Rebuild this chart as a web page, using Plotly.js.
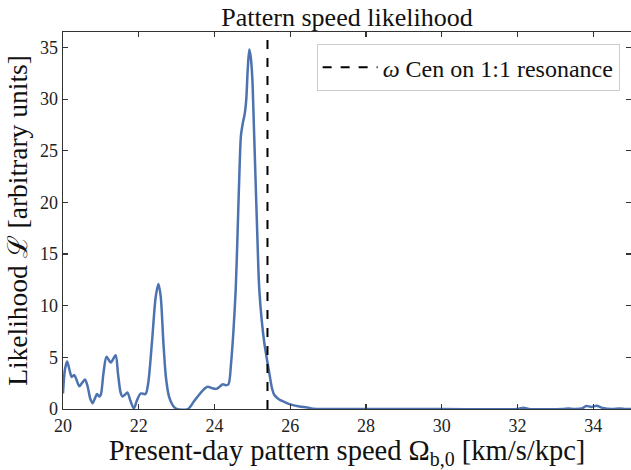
<!DOCTYPE html>
<html>
<head>
<meta charset="utf-8">
<script src="https://cdn.plot.ly/plotly-3.0.1.min.js"></script>
<style>html,body{margin:0;padding:0;background:#fff;}#chart{width:631px;height:470px;}</style>
</head>
<body>
<div id="chart"></div>
<script>
const omega = [20.00,20.05,20.11,20.17,20.23,20.29,20.34,20.43,20.50,20.58,20.65,20.72,20.78,20.85,20.90,20.96,21.00,21.07,21.15,21.26,21.39,21.45,21.52,21.57,21.64,21.70,21.78,21.87,21.95,22.05,22.18,22.25,22.35,22.45,22.52,22.58,22.65,22.72,22.80,22.90,23.00,23.30,23.45,23.60,23.75,23.82,23.95,24.05,24.15,24.22,24.30,24.37,24.44,24.50,24.56,24.61,24.66,24.70,24.75,24.80,24.84,24.88,24.92,24.96,25.00,25.04,25.08,25.13,25.18,25.25,25.32,25.40,25.45,25.52,25.58,25.70,25.84,26.00,26.24,26.45,26.60,27.00,28.00,30.00,32.00,32.16,32.30,33.20,33.34,33.50,33.70,33.82,33.95,34.09,34.25,34.50,34.70,34.85,35.00];
const likelihood = [1.5,3.8,4.6,3.8,3.1,3.3,3.0,2.2,2.5,2.85,2.2,1.0,0.55,1.1,1.45,1.2,1.4,3.5,5.05,4.5,5.2,3.5,1.6,1.2,1.4,1.6,0.8,0.05,0.8,1.5,1.45,2.5,6.5,10.9,12.1,10.9,6.5,3.0,1.2,0.35,0.0,0.0,0.7,1.4,2.0,2.15,2.0,1.95,2.2,2.4,2.3,2.4,4.5,7.5,11.5,17.0,23.0,26.5,27.7,28.6,30.0,33.0,34.8,34.0,32.0,27.5,22.8,17.0,11.8,8.5,6.3,4.5,3.45,2.0,1.35,0.95,0.7,0.45,0.25,0.15,0.03,0.0,0.0,0.0,0.0,0.12,0.0,0.0,0.06,0.0,0.05,0.3,0.2,0.32,0.1,0.0,0.06,0.0,0.0];
const resonance = 25.4;
const xTicks = [20,22,24,26,28,30,32,34];
const yTicks = [0,5,10,15,20,25,30,35];
const legendLabel = '<i>ω</i> Cen on 1:1 resonance';

const font = 'Liberation Serif, DejaVu Serif, serif';
const traces = [
  {x: omega, y: likelihood, mode: 'lines', line: {color: '#4C72B0', width: 2.5, shape: 'spline', smoothing: 0.8}, showlegend: false, hoverinfo: 'skip'},
  {x: [resonance, resonance], y: [0, 36.5], mode: 'lines', line: {color: 'black', width: 2, dash: 'dash'}, name: legendLabel}
];
const axisCommon = {showgrid: false, zeroline: false, showline: true, linecolor: '#333', linewidth: 1.3, mirror: 'ticks', ticks: 'inside', ticklen: 5, tickwidth: 1.2, tickcolor: '#333', tickfont: {family: font, size: 18, color: '#222'}};
const layout = {
  width: 631, height: 470,
  margin: {l: 63, r: 0, t: 32, b: 61},
  paper_bgcolor: 'white', plot_bgcolor: 'white',
  title: {text: 'Pattern speed likelihood', font: {family: font, size: 26, color: '#111'}, x: 0.5, xanchor: 'center', y: 0.965, yanchor: 'middle', xref: 'paper'},
  xaxis: Object.assign({}, axisCommon, {range: [20, 35], tickvals: xTicks, title: {text: 'Present-day pattern speed Ω<sub>b,0</sub> [km/s/kpc]', font: {family: font, size: 28.5, color: '#111'}, standoff: 4}}),
  yaxis: Object.assign({}, axisCommon, {range: [0, 36.5], tickvals: yTicks, title: {text: 'Likelihood ℒ [arbitrary units]', font: {family: font, size: 27.5, color: '#111'}, standoff: 4}}),
  legend: {x: 0.98, xanchor: 'right', y: 0.968, yanchor: 'top', bgcolor: 'white', bordercolor: '#ccc', borderwidth: 1, itemwidth: 55, font: {family: font, size: 24, color: '#111'}},
  showlegend: true
};
Plotly.newPlot('chart', traces, layout, {staticPlot: true, displayModeBar: false});
</script>
</body>
</html>
